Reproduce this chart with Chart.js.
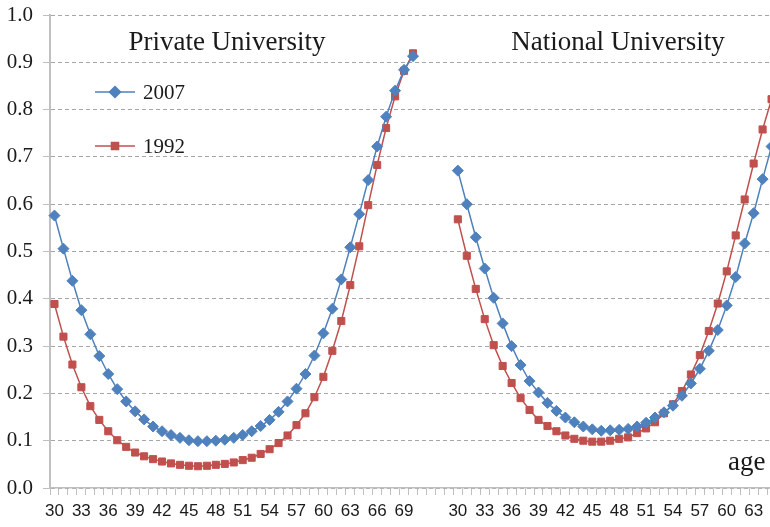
<!DOCTYPE html>
<html>
<head>
<meta charset="utf-8">
<script src="https://cdn.jsdelivr.net/npm/chart.js@4.4.1/dist/chart.umd.min.js"></script>
<style>
  html, body { margin: 0; padding: 0; background: #fff; overflow: hidden; }
  #wrap { width: 800px; height: 527px; }
</style>
</head>
<body>
<div id="wrap"><canvas id="c" width="800" height="527"></canvas></div>
<script>
// ── Catégories (âge) ─────────────────────────────────────────────────────────
// panneau gauche 30..70, 4 cases vides, panneau droit 30..66 (coupé à droite)
const privateAges  = ['30','31','32','33','34','35','36','37','38','39','40','41','42','43','44','45','46','47','48','49','50',
                      '51','52','53','54','55','56','57','58','59','60','61','62','63','64','65','66','67','68','69','70'];
const gapLabels    = ['', '', '', ''];
const nationalAges = ['30','31','32','33','34','35','36','37','38','39','40','41','42','43','44','45','46','47','48',
                      '49','50','51','52','53','54','55','56','57','58','59','60','61','62','63','64','65','66'];

// ── Séries ───────────────────────────────────────────────────────────────────
const private2007 = [0.576, 0.506, 0.438, 0.376, 0.325, 0.279, 0.241, 0.209, 0.183, 0.162, 0.145,
                     0.130, 0.120, 0.112, 0.106, 0.101, 0.099, 0.099, 0.100, 0.102, 0.106,
                     0.112, 0.120, 0.131, 0.144, 0.161, 0.183, 0.210, 0.241, 0.280, 0.327,
                     0.379, 0.441, 0.509, 0.579, 0.651, 0.722, 0.785, 0.840, 0.884, 0.913];
const private1992 = [0.389, 0.320, 0.261, 0.213, 0.173, 0.144, 0.120, 0.101, 0.087, 0.075, 0.067,
                     0.061, 0.056, 0.052, 0.049, 0.047, 0.046, 0.047, 0.049, 0.051, 0.054,
                     0.059, 0.064, 0.072, 0.082, 0.095, 0.111, 0.133, 0.158, 0.192, 0.235,
                     0.290, 0.353, 0.429, 0.511, 0.598, 0.683, 0.761, 0.828, 0.882, 0.919];
const national2007 = [0.671, 0.600, 0.530, 0.464, 0.402, 0.348, 0.300, 0.260, 0.226, 0.202, 0.180,
                      0.163, 0.149, 0.139, 0.130, 0.124, 0.121, 0.122, 0.123, 0.125, 0.130,
                      0.138, 0.149, 0.160, 0.174, 0.195, 0.221, 0.252, 0.290, 0.334, 0.386,
                      0.446, 0.517, 0.581, 0.653, 0.722];
const national1992 = [0.568, 0.491, 0.421, 0.357, 0.302, 0.258, 0.222, 0.190, 0.165, 0.144, 0.131,
                      0.120, 0.111, 0.104, 0.100, 0.098, 0.098, 0.100, 0.104, 0.107, 0.116,
                      0.126, 0.139, 0.158, 0.177, 0.205, 0.240, 0.281, 0.332, 0.390, 0.458,
                      0.534, 0.610, 0.686, 0.758, 0.822];

const seriesNames = ['2007', '1992'];
const panelTitles = ['Private University', 'National University'];
const axisName    = 'age';

// ── Assemblage pour Chart.js ─────────────────────────────────────────────────
const labels = [...privateAges, ...gapLabels, ...nationalAges];
const gap = gapLabels.map(() => null);
function joinPanels(left, right) {
  const tail = nationalAges.slice(right.length).map(() => null);
  return [...left, ...gap, ...right, ...tail];
}

const BLUE = '#4F81BD';
const RED  = '#C0504D';
const INK  = '#1a1a1a';
const SERIF = '"Liberation Serif", "Times New Roman", serif';

// titres, légende et "age" dessinés dans la zone du graphique
const overlayText = {
  id: 'overlayText',
  afterDatasetsDraw(chart) {
    const ctx = chart.ctx;
    ctx.save();
    ctx.fillStyle = INK;
    ctx.font = '27px ' + SERIF;
    ctx.textBaseline = 'alphabetic';
    ctx.textAlign = 'center';
    ctx.fillText(panelTitles[0], 227, 50);
    ctx.fillText(panelTitles[1], 618, 50);
    ctx.textAlign = 'left';
    ctx.fillText(axisName, 728, 470);

    ctx.font = '21px ' + SERIF;
    ctx.textBaseline = 'middle';
    chart.data.datasets.forEach((ds, i) => {
      const y = 92 + i * 54;
      ctx.strokeStyle = ds.borderColor;
      ctx.lineWidth = 1.5;
      ctx.beginPath();
      ctx.moveTo(95, y);
      ctx.lineTo(135, y);
      ctx.stroke();
      ctx.fillStyle = ds.pointBackgroundColor;
      ctx.strokeStyle = ds.pointBorderColor;
      Chart.helpers.drawPoint(ctx, { pointStyle: ds.pointStyle, radius: ds.pointRadius, borderWidth: 1, rotation: 0 }, 115, y);
      ctx.fillStyle = INK;
      ctx.fillText(ds.label, 143, y + 1);
    });
    ctx.restore();
  }
};

new Chart(document.getElementById('c'), {
  type: 'line',
  data: {
    labels,
    datasets: [
      {
        label: seriesNames[0],
        data: joinPanels(private2007, national2007),
        borderColor: BLUE,
        borderWidth: 1.5,
        pointStyle: 'rectRot',
        pointRadius: 5.5,
        pointBackgroundColor: BLUE,
        pointBorderColor: BLUE,
        pointBorderWidth: 1,
        spanGaps: false,
        tension: 0,
      },
      {
        label: seriesNames[1],
        data: joinPanels(private1992, national1992),
        borderColor: RED,
        borderWidth: 1.5,
        pointStyle: 'rect',
        pointRadius: 5,
        pointBackgroundColor: RED,
        pointBorderColor: RED,
        pointBorderWidth: 1,
        spanGaps: false,
        tension: 0,
      },
    ],
  },
  options: {
    responsive: false,
    animation: false,
    devicePixelRatio: 1,
    layout: { padding: { top: 15, right: 15, left: 0, bottom: 0 } },
    plugins: {
      legend: { display: false },
      tooltip: { enabled: false },
    },
    scales: {
      x: {
        type: 'category',
        offset: true,
        afterFit: (s) => { s.height = 39; },
        grid: {
          display: true,
          offset: true,
          drawOnChartArea: false,
          drawTicks: true,
          tickLength: 7,
          tickColor: '#bfbfbf',
        },
        border: { display: true, color: '#bfbfbf', width: 1.5 },
        ticks: {
          autoSkip: false,
          maxRotation: 0,
          padding: 6,
          color: INK,
          font: { family: '"Liberation Sans", Arial, sans-serif', size: 17 },
          callback: (v, i) => (i % 3 === 0 ? labels[i] : ''),
        },
      },
      y: {
        min: 0,
        max: 1,
        afterFit: (s) => { s.width = 50; s.paddingTop = 0; },
        grid: {
          color: '#a6a6a6',
          lineWidth: 1,
          drawTicks: true,
          tickLength: 7,
          tickColor: '#bfbfbf',
          tickBorderDash: [],
        },
        border: { display: true, color: '#c0c0c0', width: 2, dash: [4, 3] },
        ticks: {
          stepSize: 0.1,
          padding: 10,
          color: INK,
          font: { family: SERIF, size: 21 },
          callback: (v) => Number(v).toFixed(1),
        },
      },
    },
  },
  plugins: [overlayText],
});
</script>
</body>
</html>
